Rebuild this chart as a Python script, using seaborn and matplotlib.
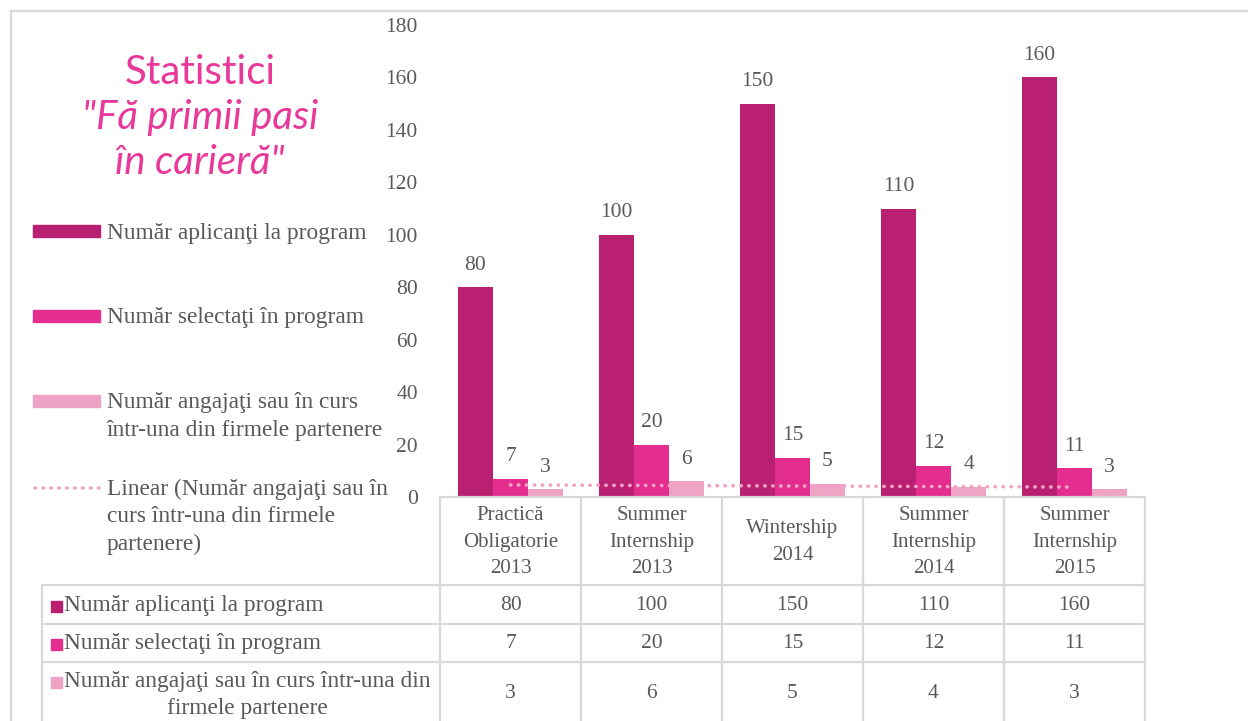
import numpy as np
import pandas as pd
import matplotlib
matplotlib.use("Agg")
import matplotlib.pyplot as plt
import matplotlib.transforms as mtransforms
from matplotlib.patches import Rectangle
from matplotlib.lines import Line2D
import seaborn as sns

# ---- data ----
categories = ["Practică\nObligatorie\n2013", "Summer\nInternship\n2013", "Wintership\n2014",
              "Summer\nInternship\n2014", "Summer\nInternship\n2015"]
aplicanti = [80, 100, 150, 110, 160]
selectati = [7, 20, 15, 12, 11]
angajati = [3, 6, 5, 4, 3]
series_names = ["Număr aplicanţi la program", "Număr selectaţi în program",
                "Număr angajaţi sau în curs într-una din firmele partenere"]
legend_labels = ["Număr aplicanţi la program", "Număr selectaţi în program",
                 "Număr angajaţi sau în curs\nîntr-una din firmele partenere",
                 "Linear (Număr angajaţi sau în\ncurs într-una din firmele\npartenere)"]
table_labels = ["Număr aplicanţi la program", "Număr selectaţi în program",
                "Număr angajaţi sau în curs într-una din\nfirmele partenere"]
yticks = [0, 20, 40, 60, 80, 100, 120, 140, 160, 180]
series_colors = ["#BA2072", "#E32E8F", "#EFA3C4"]
trend_color = "#F0A3C6"
title_color = "#E8399A"
text_color = "#595959"
grid_color = "#D9D9D9"

W, H = 1248, 721
FS = 16.8      # legend / table labels
FS_NUM = 15.5  # numbers
FS_CAT = 15    # category headers

def fx(x):
    return x / W

def fy(y):
    return 1 - y / H

sns.set_style("white")
plt.rcParams['font.family'] = ['Liberation Serif', 'DejaVu Serif']

fig = plt.figure(figsize=(W / 100, H / 100), dpi=100)
ax = fig.add_axes([fx(440), fy(497), (1145 - 440) / W, (497 - 25) / H])

# long-format frame for seaborn
values = [aplicanti, selectati, angajati]
df = pd.DataFrame({
    "category": [c for _ in values for c in categories],
    "series": [s for s, v in zip(series_names, values) for _ in v],
    "value": [x for v in values for x in v],
})

sns.barplot(data=df, x="category", y="value", hue="series", hue_order=series_names,
            palette=series_colors, saturation=1, width=0.745, linewidth=0,
            legend=False, ax=ax)

for cont in ax.containers:
    ax.bar_label(cont, padding=9, color=text_color, fontsize=FS_NUM)

# linear trend of the third series (like Excel)
dots = (0, (0.1, 2.1))
xs = np.arange(len(angajati))
k, b = np.polyfit(xs, angajati, 1)
ax.plot(xs, k * xs + b, color=trend_color, lw=2.6, linestyle=dots,
        dash_capstyle="round", zorder=4)

ax.set_ylim(0, 180)
ax.set_xlim(-0.5, len(categories) - 0.5)
ax.set_yticks(yticks)
ax.tick_params(axis="y", length=0, pad=16, labelsize=FS_NUM, labelcolor=text_color)
ax.set_xticks([])
ax.set_xlabel("")
ax.set_ylabel("")
sns.despine(ax=ax, left=True, bottom=True)

# ---- data table under the chart ----
blend = mtransforms.blended_transform_factory(ax.transData, fig.transFigure)
n = len(categories)

def hline(y, x0, x1):
    fig.add_artist(Line2D([fx(x0), fx(x1)], [fy(y), fy(y)], color=grid_color, lw=1.6))

hline(497, 440, 1145)
for y in [585, 624, 662]:
    hline(y, 42, 1145)
fig.add_artist(Line2D([fx(42), fx(42)], [fy(585), fy(721)], color=grid_color, lw=1.6))
for i in range(n + 1):
    fig.add_artist(Line2D([i - 0.5, i - 0.5], [fy(497), fy(721)], color=grid_color,
                          lw=1.6, transform=blend))

for i, cat in enumerate(categories):
    fig.text(i, fy(542), cat, transform=blend, ha="center", va="center",
             fontsize=FS_CAT, color=text_color, linespacing=1.55)

row_y = [605, 643, 694]
for vals, y in zip(values, row_y):
    for i, v in enumerate(vals):
        fig.text(i, fy(y), str(v), transform=blend, ha="center", va="center",
                 fontsize=FS_NUM, color=text_color)

label_first = [605, 643, 681]
for lab, col, y in zip(table_labels, series_colors, label_first):
    fig.add_artist(Rectangle((fx(51), fy(y + 7)), 11 / W, 11 / H, color=col,
                             transform=fig.transFigure))
    nl = lab.count("\n")
    fig.text(fx(64), fy(y + nl * 14), lab, ha="left", va="center", fontsize=FS,
             color=text_color, multialignment="center", linespacing=1.4)

# ---- side legend ----
leg_y = [231, 316, 401, 488]
for i, (lab, y) in enumerate(zip(legend_labels, leg_y)):
    if i < 3:
        fig.add_artist(Rectangle((fx(33), fy(y + 6)), 67 / W, 12 / H,
                                 color=series_colors[i], transform=fig.transFigure))
    else:
        fig.add_artist(Line2D([fx(35), fx(99)], [fy(y), fy(y)], color=trend_color, lw=2.6,
                              linestyle=dots, dash_capstyle="round"))
    nl = lab.count("\n")
    fig.text(fx(107), fy(y + 2 + nl * 13.5), lab, ha="left", va="center", fontsize=FS,
             color=text_color, linespacing=1.4)

# ---- title ----
for txt, y, st in [("Statistici", 72, "normal"), ("\"Fă primii pasi", 118, "italic"),
                   ("în carieră\"", 162, "italic")]:
    fig.text(fx(200), fy(y), txt, ha="center", va="center", fontsize=29,
             family="Lato", style=st, color=title_color)

# outer chart frame
fig.add_artist(Line2D([fx(11), fx(W)], [fy(11), fy(11)], color=grid_color, lw=1.6))
fig.add_artist(Line2D([fx(11), fx(11)], [fy(11), fy(H)], color=grid_color, lw=1.6))

fig.savefig("out.png", dpi=100)
